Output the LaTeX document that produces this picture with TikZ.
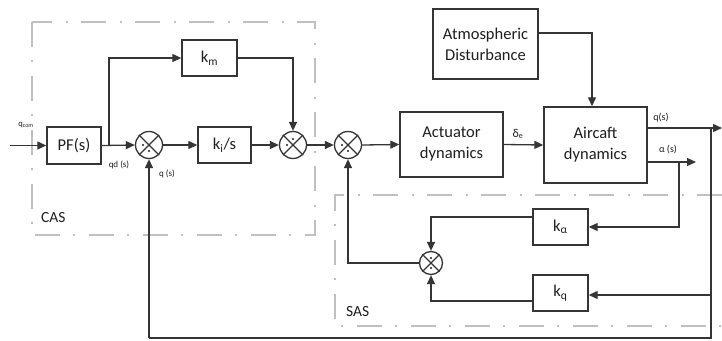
\documentclass[tikz,border=0pt]{standalone}
\usepackage{fontspec}
\setmainfont{Carlito}
\usetikzlibrary{arrows.meta,calc}
\definecolor{ln}{HTML}{353535}
\definecolor{dsh}{HTML}{C0C0C0}
\definecolor{tx}{HTML}{1E1E1E}
\begin{document}
\begin{tikzpicture}[x=1pt,y=-1pt,
  blk/.style={draw=ln,line width=1.4pt,inner sep=0pt,text=tx,align=center,font=\fontsize{16.5}{21}\selectfont},
  sumj/.style={draw=ln,circle,line width=1.3pt,inner sep=0pt,minimum size=#1},
  wire/.style={draw=ln,line width=1.3pt},
  arr/.style={wire,-{Triangle[length=9pt,width=8pt]}},
  grp/.style={draw=dsh,line width=2.2pt,dash pattern=on 25pt off 13pt on 2pt off 14pt},
  lbl/.style={text=tx,inner sep=0pt,font=\fontsize{#1}{#1}\selectfont}]
\useasboundingbox (0,0) rectangle (722,340);
% groups
\draw[grp] (32,22) rectangle (315,235);
\draw[grp] (722,195) -- (335,195) -- (335,326) -- (722,326);
\node[lbl=15.5,anchor=west] (cas) at (41,218) {CAS};
\node[lbl=15.5,anchor=west] (sas) at (346,312) {SAS};
% blocks
\node[blk,minimum width=54pt,minimum height=37pt] (pf) at (74,145.5) {PF(s)};
\node[blk,minimum width=55pt,minimum height=36pt] (km) at (209.5,58) {k\textsubscript{m}};
\node[blk,minimum width=53pt,minimum height=36pt] (ki) at (224.5,145) {k\textsubscript{i}/s};
\node[blk,minimum width=103pt,minimum height=65pt] (act) at (451.5,144.5) {Actuator\\dynamics};
\node[blk,minimum width=103pt,minimum height=76pt] (air) at (595.5,145) {Aircaft\\dynamics};
\node[blk,minimum width=105pt,minimum height=70pt] (atm) at (485.5,44) {Atmospheric\\Disturbance};
\node[blk,minimum width=55pt,minimum height=36pt] (ka) at (560.5,227) {k\textsubscript{α}};
\node[blk,minimum width=55pt,minimum height=36pt] (kq) at (560.5,293) {k\textsubscript{q}};
% summing junctions
\foreach \n/\px/\py/\sz in {s1/149/145/27pt, s2/293/145/27pt, s3/348/145/27pt, s4/431/263/23pt}{
  \node[sumj=\sz] (\n) at (\px,\py) {};
  \draw[ln,line width=1.2pt] (\n.north west) -- (\n.south east) (\n.north east) -- (\n.south west);
}
\fill[tx] ($(s1)+(-6,0)$) circle (1.1pt) ($(s1)+(0,6)$) circle (1.1pt);
\fill[tx] ($(s2)+(0,-6)$) circle (1.1pt) ($(s2)+(-6,0)$) circle (1.1pt);
\fill[tx] ($(s3)+(-6,0)$) circle (1.1pt) ($(s3)+(0,6)$) circle (1.1pt);
\fill[tx] ($(s4)+(0,-5)$) circle (1.1pt) ($(s4)+(0,5)$) circle (1.1pt);
% coordinates
\coordinate (in) at (10,145.5);
\coordinate (br1) at (109,145.5);
\coordinate (qout) at (722,128);
\coordinate (qb) at (711,128);
\coordinate (aout) at (696,162);
\coordinate (ab) at (679,162);
\coordinate (qk) at (711,295);
\coordinate (qbot) at (711,338);
\coordinate (fbq) at (149,338);
% connectors
\draw[arr] (in) -- (pf.west);
\draw[arr] (pf.east) -- (s1.west);
\draw[arr] (br1) |- (km.west);
\draw[arr] (s1.east) -- (ki.west);
\draw[arr] (ki.east) -- (s2.west);
\draw[arr] (km.east) -| (s2.north);
\draw[arr] (s2.east) -- (s3.west);
\draw[arr] (s3.east) -- (act.west);
\draw[arr] (act.east) -- (air.west);
\draw[arr] ([yshift=11pt]atm.east) -| ([xshift=-3.5pt]air.north);
\draw[arr] ([yshift=17pt]air.east) -- (qout);
\draw[arr] ([yshift=-17pt]air.east) -- (aout);
\draw[arr] (ab) |- (ka.east);
\draw[wire] (qb) -- (qbot) -- (fbq);
\draw[arr] (fbq) -- (s1.south);
\draw[arr] (qk) -- ([yshift=-2pt]kq.east);
\draw[arr] ([yshift=10pt]ka.west) -| (s4.north);
\draw[arr] ([yshift=-8pt]kq.west) -| (s4.south);
\draw[arr] (s4.west) -| (s3.south);
% labels
\node[lbl=8.5] (lqc) at (26,125) {q\textsubscript{com}};
\node[lbl=9] (lqd) at (119,165) {qd (s)};
\node[lbl=9] (lq1) at (167,174) {q (s)};
\node[lbl=12] (lde) at (518,134) {δ\textsubscript{e}};
\node[lbl=10] (lqs) at (661,118) {q(s)};
\node[lbl=10] (las) at (668,150) {α (s)};
\end{tikzpicture}
\end{document}
